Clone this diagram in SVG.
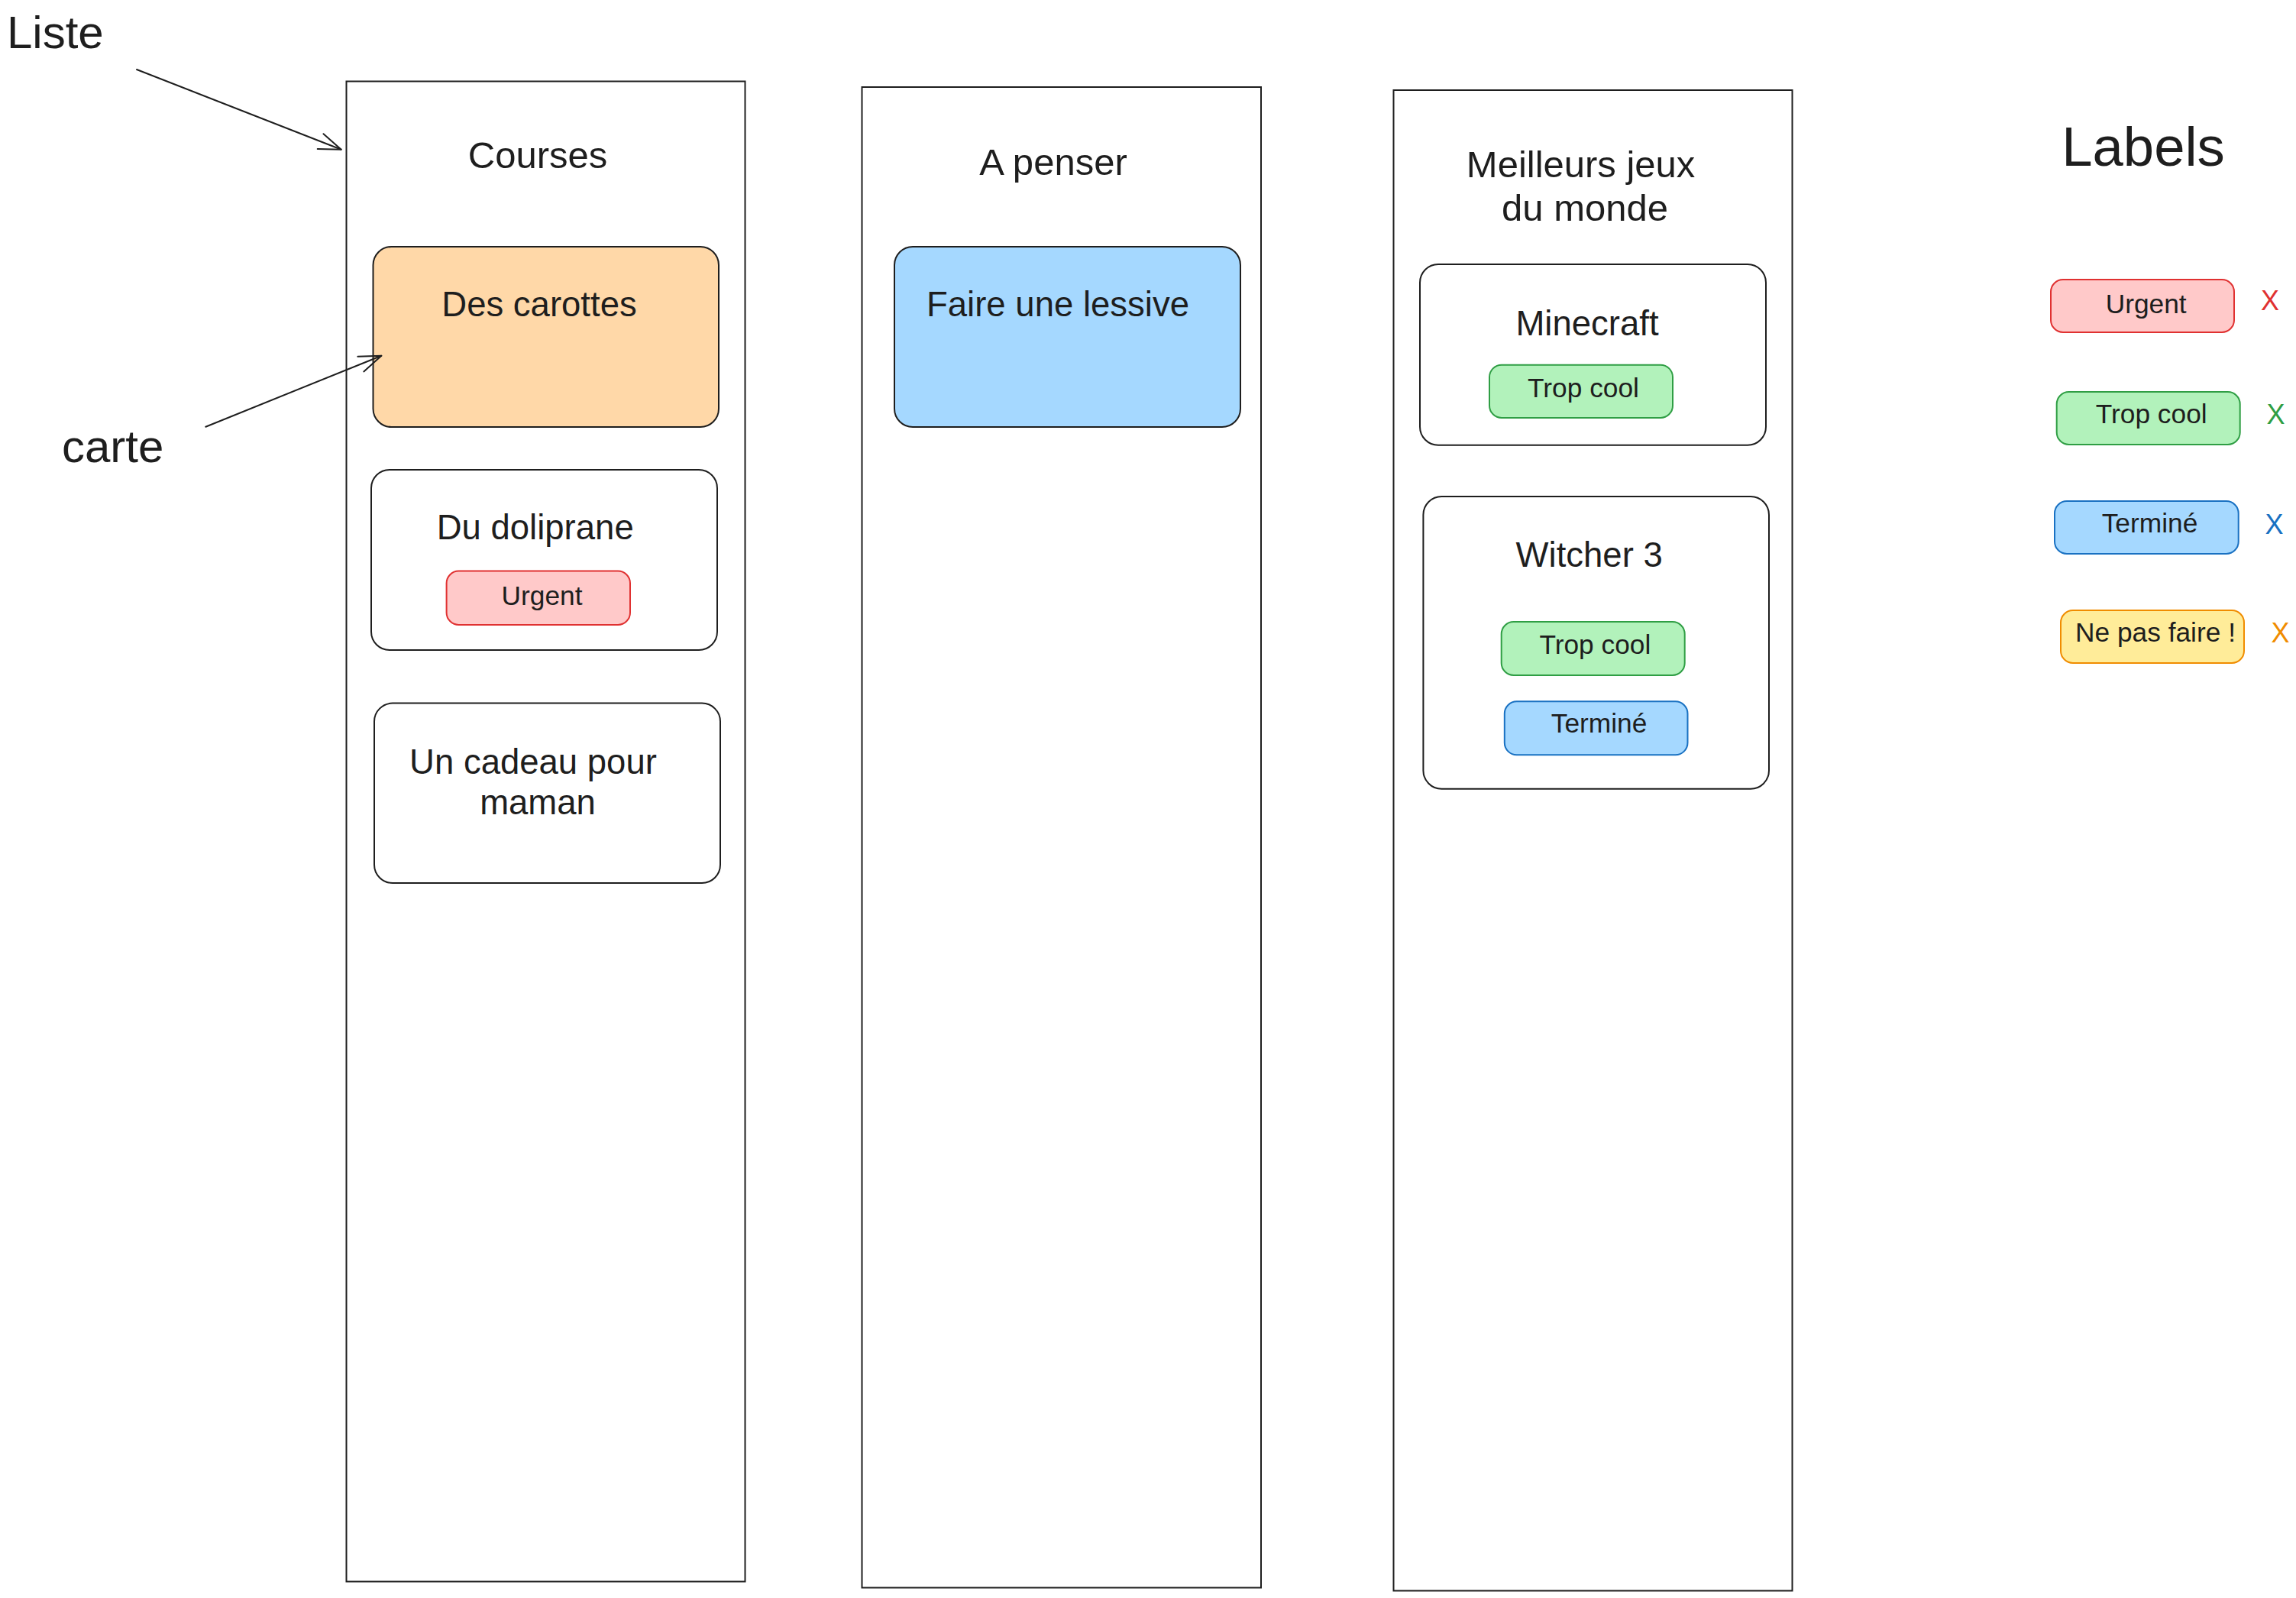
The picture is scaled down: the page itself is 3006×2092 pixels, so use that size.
<svg xmlns="http://www.w3.org/2000/svg" width="3006" height="2092" viewBox="0 0 3006 2092">
<style>
text { font-family: "Liberation Sans", Arial, Helvetica, sans-serif; fill: #1e1e1e; }
.list { fill: #ffffff; stroke: #1e1e1e; stroke-width: 2; }
.card { stroke: #1e1e1e; stroke-width: 2; }
.white { fill: #ffffff; }
.peach { fill: #ffd8a8; }
.sky { fill: #a5d8ff; }
.tag { stroke-width: 2; }
.red { fill: #ffc9c9; stroke: #e03131; }
.green { fill: #b2f2bb; stroke: #2f9e44; }
.blue { fill: #a5d8ff; stroke: #1971c2; }
.yellow { fill: #ffec99; stroke: #f08c00; }
.t-note { font-size: 60px; }
.t-list { font-size: 49px; text-anchor: middle; }
.t-card { font-size: 45.5px; text-anchor: middle; }
.t-tag { font-size: 35.3px; text-anchor: middle; }
.t-x { font-size: 36px; }
.conn { fill: none; stroke: #1e1e1e; stroke-width: 2; stroke-linecap: round; }
</style>
<defs>
<marker id="open" markerUnits="userSpaceOnUse" viewBox="-34 -14 38 28" refX="0" refY="0" markerWidth="38" markerHeight="28" orient="auto" overflow="visible">
<path d="M -29.1 -10.6 L 0 0 L -29.1 10.6" fill="none" stroke="#1e1e1e" stroke-width="2" stroke-linecap="round" stroke-linejoin="round"/>
</marker>
</defs>
<rect width="3006" height="2092" fill="#ffffff"/>

<g id="list-courses">
<rect class="list" x="453.5" y="106.5" width="522" height="1964"/>
<text class="t-list" x="704" y="219.5">Courses</text>
</g>
<g id="card-carottes">
<rect class="card peach" x="488.5" y="323" width="452.5" height="236" rx="24"/>
<text class="t-card" x="706" y="414">Des carottes</text>
</g>
<g id="card-doliprane">
<rect class="card white" x="486" y="615" width="453" height="236" rx="24"/>
<text class="t-card" x="700.7" y="706">Du doliprane</text>
</g>
<g id="tag-doliprane-urgent">
<rect class="tag red" x="584.6" y="747.6" width="240.4" height="70.4" rx="16"/>
<text class="t-tag" x="709.6" y="792">Urgent</text>
</g>
<g id="card-cadeau">
<rect class="card white" x="490" y="920.6" width="453" height="235.4" rx="24"/>
<text class="t-card" x="698" y="1012.5">Un cadeau pour</text>
<text class="t-card" x="704" y="1066">maman</text>
</g>

<g id="list-penser">
<rect class="list" x="1128.5" y="114" width="522.5" height="1964.5"/>
<text class="t-list" x="1379" y="229">A penser</text>
</g>
<g id="card-lessive">
<rect class="card sky" x="1171" y="323" width="453" height="236" rx="24"/>
<text class="t-card" x="1385" y="414">Faire une lessive</text>
</g>

<g id="list-jeux">
<rect class="list" x="1824.5" y="118" width="522" height="1964.5"/>
<text class="t-list" x="2069.6" y="232">Meilleurs jeux</text>
<text class="t-list" x="2075" y="289">du monde</text>
</g>
<g id="card-minecraft">
<rect class="card white" x="1859" y="346" width="453" height="236.7" rx="24"/>
<text class="t-card" x="2078" y="438.8">Minecraft</text>
</g>
<g id="tag-minecraft-cool">
<rect class="tag green" x="1950" y="477.7" width="240" height="69.3" rx="16"/>
<text class="t-tag" x="2073" y="519.7">Trop cool</text>
</g>
<g id="card-witcher">
<rect class="card white" x="1863.4" y="650" width="452.6" height="382.7" rx="24"/>
<text class="t-card" x="2080.7" y="741.7">Witcher 3</text>
</g>
<g id="tag-witcher-cool">
<rect class="tag green" x="1965.7" y="814" width="240" height="70" rx="16"/>
<text class="t-tag" x="2088.4" y="855.7">Trop cool</text>
</g>
<g id="tag-witcher-termine">
<rect class="tag blue" x="1969.8" y="918.3" width="239.7" height="70" rx="16"/>
<text class="t-tag" x="2093.6" y="959">Terminé</text>
</g>

<g id="labels-panel">
<text x="2806" y="217" font-size="72.5" text-anchor="middle">Labels</text>
</g>
<g id="label-urgent">
<rect class="tag red" x="2685" y="366" width="240" height="69" rx="16"/>
<text class="t-tag" x="2809.7" y="410">Urgent</text>
<text class="t-x" x="2960" y="406" style="fill:#e03131">X</text>
</g>
<g id="label-cool">
<rect class="tag green" x="2692.7" y="513" width="240" height="69" rx="16"/>
<text class="t-tag" x="2816.7" y="553.8">Trop cool</text>
<text class="t-x" x="2967.5" y="555" style="fill:#2f9e44">X</text>
</g>
<g id="label-termine">
<rect class="tag blue" x="2690" y="656" width="240.7" height="69" rx="16"/>
<text class="t-tag" x="2814.5" y="697">Terminé</text>
<text class="t-x" x="2965.5" y="698.6" style="fill:#1971c2">X</text>
</g>
<g id="label-nepasfaire">
<rect class="tag yellow" x="2698" y="799" width="240" height="69" rx="16"/>
<text class="t-tag" x="2822" y="840">Ne pas faire !</text>
<text class="t-x" x="2973.5" y="841" style="fill:#f08c00">X</text>
</g>

<g id="note-liste">
<text class="t-note" x="9" y="63">Liste</text>
</g>
<g id="note-carte">
<text class="t-note" x="81" y="605">carte</text>
</g>

<g id="connectors">
<path class="conn" d="M 179 91 L 446.7 195.7" marker-end="url(#open)"/>
<path class="conn" d="M 269.3 558.7 L 499.3 465.7" marker-end="url(#open)"/>
</g>
</svg>
